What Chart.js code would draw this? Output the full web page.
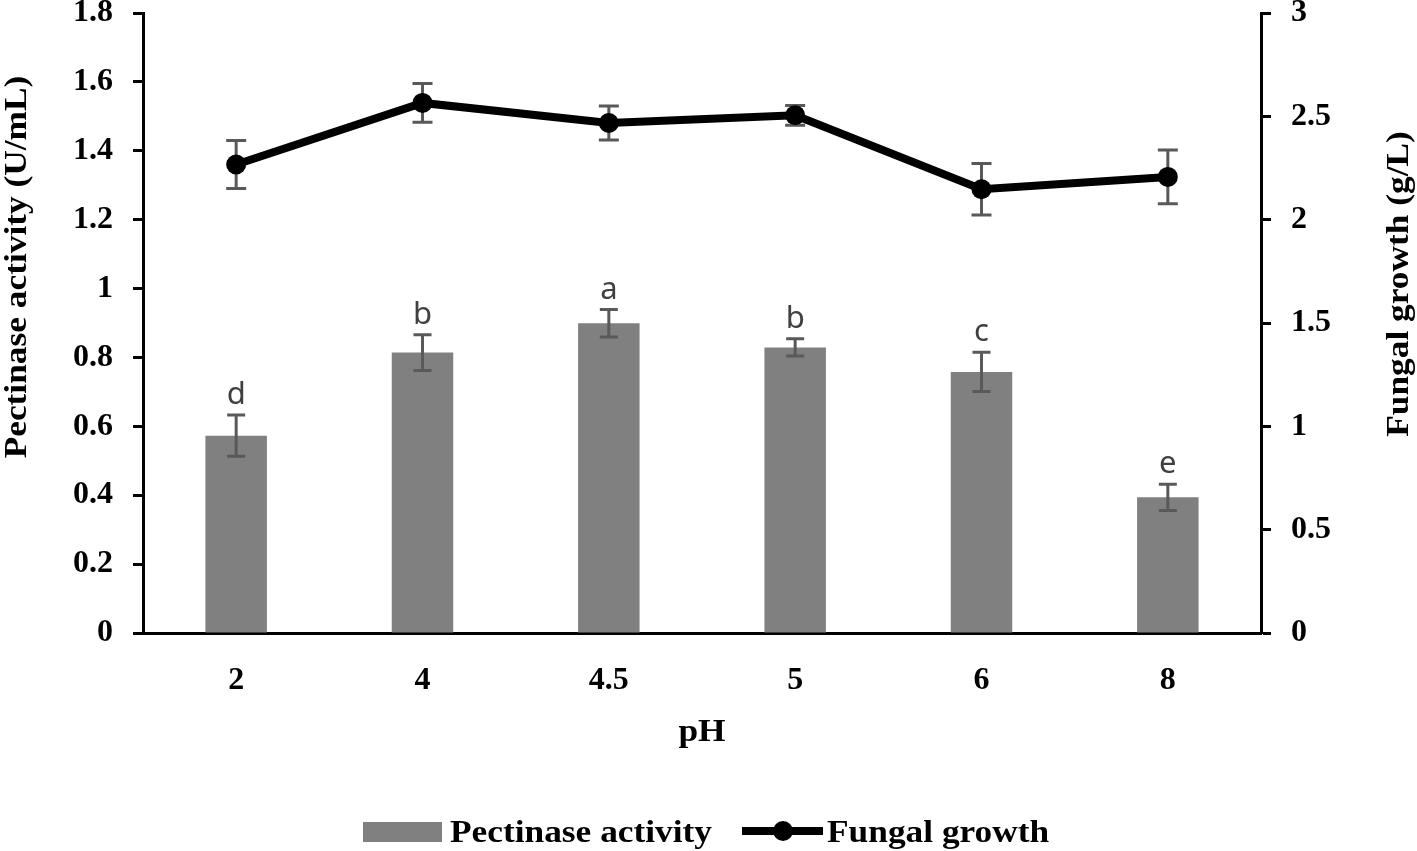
<!DOCTYPE html>
<html>
<head>
<meta charset="utf-8">
<title>Pectinase activity and fungal growth vs pH</title>
<script src="https://cdn.jsdelivr.net/npm/chart.js@4.4.0/dist/chart.umd.min.js"></script>
<style>
  html, body { margin: 0; padding: 0; background: #fff; }
  #chart { display: block; }
</style>
</head>
<body>
<canvas id="chart" width="1417" height="851"></canvas>
<script>
// data
const categories = ["2", "4", "4.5", "5", "6", "8"];
const pectinase = [0.573, 0.814, 0.899, 0.829, 0.758, 0.394];
const pectinaseErr = [0.06, 0.052, 0.04, 0.025, 0.057, 0.038];
const growth = [2.267, 2.565, 2.468, 2.505, 2.147, 2.207];
const growthErr = [0.116, 0.094, 0.082, 0.048, 0.125, 0.13];
const letters = ["d", "b", "a", "b", "c", "e"];

const serif = "'Liberation Serif', 'Times New Roman', serif";
const tickFont = { family: serif, size: 32, weight: "bold", lineHeight: 1 };
const errColor = "#595959";

// draw one vertical error bar with caps
function errBar(ctx, x, yTop, yBot, half) {
  ctx.beginPath();
  ctx.moveTo(x, yTop);
  ctx.lineTo(x, yBot);
  ctx.moveTo(x - half, yTop);
  ctx.lineTo(x + half, yTop);
  ctx.moveTo(x - half, yBot);
  ctx.lineTo(x + half, yBot);
  ctx.stroke();
}

// text a bit wider than the plain font, like the figure
function wideText(ctx, txt, x, y, rot) {
  ctx.save();
  ctx.translate(x, y);
  if (rot) ctx.rotate(rot);
  ctx.scale(1.14, 1);
  ctx.fillText(txt, 0, 0);
  ctx.restore();
}

const errorBars = {
  id: "errorBars",
  beforeDatasetDraw(chart, args) {
    if (args.index !== 1) return; // line error bars go under the line
    const ctx = chart.ctx;
    const y = chart.scales.y2;
    ctx.save();
    ctx.strokeStyle = errColor;
    ctx.lineWidth = 3;
    args.meta.data.forEach((pt, i) => {
      errBar(ctx, pt.x, y.getPixelForValue(growth[i] + growthErr[i]),
        y.getPixelForValue(growth[i] - growthErr[i]), 10);
    });
    ctx.restore();
  },
  afterDatasetDraw(chart, args) {
    if (args.index !== 0) return;
    const ctx = chart.ctx;
    const y = chart.scales.y;
    ctx.save();
    ctx.strokeStyle = errColor;
    ctx.lineWidth = 3;
    args.meta.data.forEach((bar, i) => {
      const top = y.getPixelForValue(pectinase[i] + pectinaseErr[i]);
      errBar(ctx, bar.x, top, y.getPixelForValue(pectinase[i] - pectinaseErr[i]), 9);
      // significance letters
      ctx.fillStyle = "#404040";
      ctx.font = "31px 'Noto Sans', 'DejaVu Sans', sans-serif";
      ctx.textAlign = "center";
      ctx.textBaseline = "alphabetic";
      ctx.fillText(letters[i], bar.x, top - 11);
    });
    ctx.restore();
  }
};

// axis titles and legend
const decorations = {
  id: "decorations",
  afterDraw(chart) {
    const ctx = chart.ctx;
    const area = chart.chartArea;
    ctx.save();
    ctx.fillStyle = "#000";
    ctx.font = "bold 31px " + serif;
    ctx.textAlign = "center";
    ctx.textBaseline = "middle";

    wideText(ctx, "Pectinase activity (U/mL)", 18, 267, -Math.PI / 2);
    wideText(ctx, "Fungal growth (g/L)", 1400, 284, -Math.PI / 2);
    wideText(ctx, "pH", (area.left + area.right) / 2, 733);

    // legend
    const ds = chart.data.datasets;
    ctx.textAlign = "left";
    ctx.textBaseline = "alphabetic";
    ctx.fillStyle = ds[0].backgroundColor;
    ctx.fillRect(363, 822, 79, 20);
    ctx.fillStyle = "#000";
    wideText(ctx, ds[0].label, 450, 842);

    ctx.strokeStyle = "#000";
    ctx.lineWidth = 8;
    ctx.beginPath();
    ctx.moveTo(742, 831);
    ctx.lineTo(823, 831);
    ctx.stroke();
    ctx.beginPath();
    ctx.arc(783, 831, 10, 0, Math.PI * 2);
    ctx.fill();
    wideText(ctx, ds[1].label, 827, 842);
    ctx.restore();
  }
};

function noPad(s) {
  s.paddingTop = 0;
  s.paddingBottom = 0;
  s.paddingLeft = 0;
  s.paddingRight = 0;
}

new Chart(document.getElementById("chart"), {
  data: {
    labels: categories,
    datasets: [
      {
        type: "bar",
        label: "Pectinase activity",
        data: pectinase,
        yAxisID: "y",
        backgroundColor: "#808080",
        borderWidth: 0,
        categoryPercentage: 1,
        barPercentage: 0.33,
        order: 1
      },
      {
        type: "line",
        label: "Fungal growth",
        data: growth,
        yAxisID: "y2",
        borderColor: "#000",
        borderWidth: 8,
        pointRadius: 10,
        pointBackgroundColor: "#000",
        pointBorderColor: "#000",
        pointBorderWidth: 0,
        tension: 0,
        order: 0
      }
    ]
  },
  options: {
    responsive: false,
    animation: false,
    devicePixelRatio: 1,
    layout: { padding: { top: 13, left: 0, right: 0, bottom: 0 } },
    plugins: {
      legend: { display: false },
      tooltip: { enabled: false }
    },
    scales: {
      x: {
        type: "category",
        offset: true,
        grid: { display: false, drawTicks: false },
        border: { display: true, color: "#000", width: 3 },
        ticks: { color: "#000", font: tickFont, padding: 32, maxRotation: 0 },
        afterFit(s) { s.height = 218; noPad(s); }
      },
      y: {
        position: "left",
        min: 0,
        max: 1.8,
        grid: { drawOnChartArea: false, drawTicks: true, tickLength: 10, tickWidth: 3, tickColor: "#000" },
        border: { display: true, color: "#000", width: 3 },
        ticks: {
          stepSize: 0.2,
          color: "#000",
          font: tickFont,
          padding: 20,
          callback: (v) => String(Number(v.toFixed(1)))
        },
        afterFit(s) { s.width = 143; noPad(s); }
      },
      y2: {
        position: "right",
        min: 0,
        max: 3,
        grid: { drawOnChartArea: false, drawTicks: true, tickLength: 10, tickWidth: 3, tickColor: "#000" },
        border: { display: true, color: "#000", width: 3 },
        ticks: {
          stepSize: 0.5,
          color: "#000",
          font: tickFont,
          padding: 20,
          callback: (v) => String(Number(v.toFixed(1)))
        },
        afterFit(s) { s.width = 156; noPad(s); }
      }
    }
  },
  plugins: [errorBars, decorations]
});
</script>
</body>
</html>
